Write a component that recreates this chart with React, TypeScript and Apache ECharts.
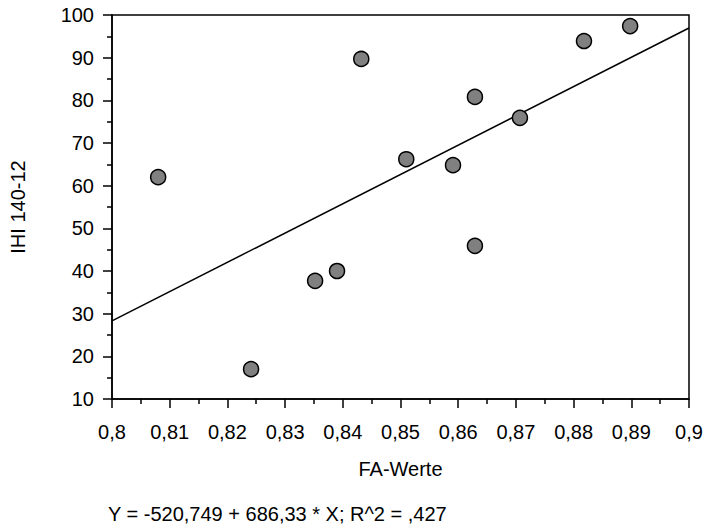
import React, { useEffect, useRef } from "react";
import * as echarts from "echarts";

const faValues = [0.808, 0.8241, 0.8352, 0.839, 0.8432, 0.851, 0.8591, 0.8629, 0.8629, 0.8707, 0.8818, 0.8898];
const ihiValues = [62.0, 17.0, 37.7, 40.0, 89.7, 66.2, 64.8, 80.8, 45.9, 75.9, 93.9, 97.4];
const intercept = -520.749;
const slope = 686.33;
const lineX = [0.8, 0.9];
const equationText = "Y = -520,749 + 686,33 * X; R^2 = ,427";

const FONT = "Liberation Sans, Arial, sans-serif";
const FS = 20;

export default function App() {
  const ref = useRef<HTMLDivElement>(null);
  useEffect(() => {
    if (!ref.current) return;
    const chart = echarts.init(ref.current, undefined, { renderer: "svg" });
    const fmt = (v: number) => String(+v.toFixed(2)).replace(".", ",");
    chart.setOption({
      animation: false,
      backgroundColor: "#fff",
      textStyle: { fontFamily: FONT },
      grid: {
        left: 112,
        top: 15,
        right: 17,
        bottom: 129,
        show: true,
        borderColor: "#000",
        borderWidth: 1.5,
        backgroundColor: "transparent",
      },
      xAxis: {
        type: "value",
        min: 0.8,
        max: 0.9,
        interval: 0.01,
        name: "FA-Werte",
        nameLocation: "middle",
        nameGap: 60,
        nameTextStyle: { color: "#000", fontSize: FS, fontFamily: FONT },
        axisLine: { show: true, lineStyle: { color: "#000", width: 1.5 } },
        axisTick: { show: true, length: 9, lineStyle: { color: "#000", width: 1.5 } },
        minorTick: { show: true, splitNumber: 2, length: 5, lineStyle: { color: "#000", width: 1.5 } },
        splitLine: { show: false },
        minorSplitLine: { show: false },
        axisLabel: { color: "#000", fontSize: FS, margin: 23, formatter: fmt, fontFamily: FONT },
      },
      yAxis: {
        type: "value",
        min: 10,
        max: 100,
        interval: 10,
        name: "IHI 140-12",
        nameLocation: "middle",
        nameGap: 84,
        nameRotate: 90,
        nameTextStyle: { color: "#000", fontSize: FS, fontFamily: FONT },
        axisLine: { show: true, lineStyle: { color: "#000", width: 1.5 } },
        axisTick: { show: true, length: 9, lineStyle: { color: "#000", width: 1.5 } },
        minorTick: { show: true, splitNumber: 2, length: 5, lineStyle: { color: "#000", width: 1.5 } },
        splitLine: { show: false },
        minorSplitLine: { show: false },
        axisLabel: { color: "#000", fontSize: FS, margin: 18, fontFamily: FONT },
      },
      graphic: [
        {
          type: "text",
          left: 108,
          top: 504,
          style: { text: equationText, fill: "#000", fontSize: FS, fontFamily: FONT },
        },
      ],
      series: [
        {
          type: "line",
          data: lineX.map((x) => [x, intercept + slope * x]),
          showSymbol: false,
          symbol: "none",
          lineStyle: { color: "#000", width: 1.5 },
          z: 2,
        },
        {
          type: "scatter",
          data: faValues.map((x, i) => [x, ihiValues[i]]),
          symbol: "circle",
          symbolSize: 15,
          itemStyle: { color: "#808080", borderColor: "#000", borderWidth: 1.5, opacity: 1 },
          z: 3,
        },
      ],
    });
    return () => chart.dispose();
  }, []);
  return <div ref={ref} style={{ width: 706, height: 528, position: "absolute", left: 0, top: 0 }} />;
}
